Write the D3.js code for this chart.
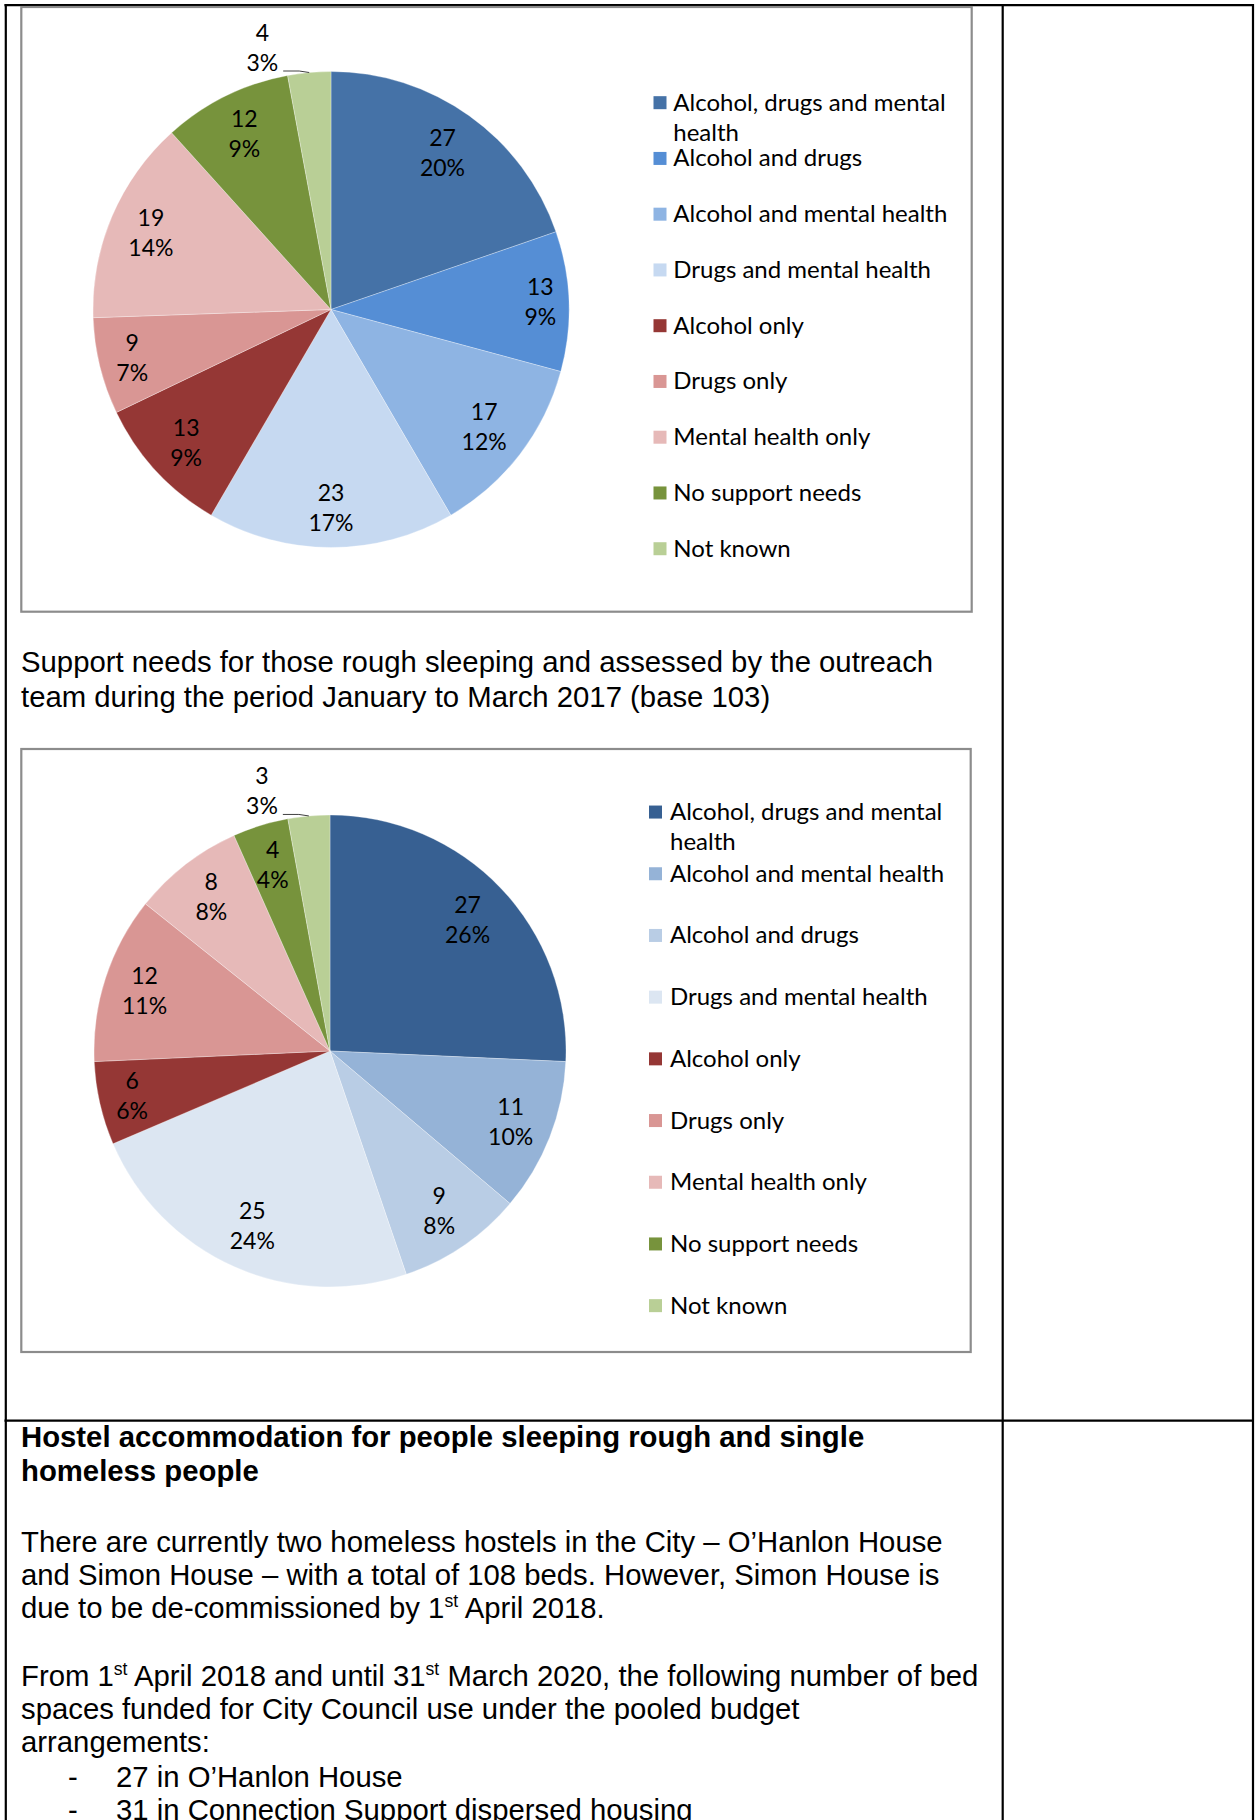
<!DOCTYPE html>
<html>
<head>
<meta charset="utf-8">
<script src="https://cdn.jsdelivr.net/npm/d3@7"></script>
<style>
  html, body { margin: 0; padding: 0; background: #fff; }
  svg { display: block; }
</style>
</head>
<body>
<svg id="page" width="1257" height="1820"></svg>
<script>
// ---- Support needs, earlier period ----
const categoriesEarlier = [
  "Alcohol, drugs and mental health",
  "Alcohol and drugs",
  "Alcohol and mental health",
  "Drugs and mental health",
  "Alcohol only",
  "Drugs only",
  "Mental health only",
  "No support needs",
  "Not known"
];
const valuesEarlier = [27, 13, 17, 23, 13, 9, 19, 12, 4];

// ---- Support needs, January to March 2017 ----
const categoriesJanMar = [
  "Alcohol, drugs and mental health",
  "Alcohol and mental health",
  "Alcohol and drugs",
  "Drugs and mental health",
  "Alcohol only",
  "Drugs only",
  "Mental health only",
  "No support needs",
  "Not known"
];
const valuesJanMar = [27, 11, 9, 25, 6, 12, 8, 4, 3];

// slice palettes
const paletteEarlier = ["#4572A7", "#558ED5", "#8EB4E3", "#C6D9F1", "#953735", "#D99694", "#E6B9B8", "#77933C", "#B9CF96"];
const paletteJanMar  = ["#376092", "#95B3D7", "#B9CDE5", "#DCE6F2", "#953735", "#D99694", "#E6B9B8", "#77933C", "#B9CF96"];

// document text
const chartTitleLines = [
  "Support needs for those rough sleeping and assessed by the outreach",
  "team during the period January to March 2017 (base 103)"
];
const headingLines = [
  "Hostel accommodation for people sleeping rough and single",
  "homeless people"
];
const paragraphOne = [
  "There are currently two homeless hostels in the City \u2013 O\u2019Hanlon House",
  "and Simon House \u2013 with a total of 108 beds. However, Simon House is",
  "due to be de-commissioned by 1{st} April 2018."
];
const paragraphTwo = [
  "From 1{st} April 2018 and until 31{st} March 2020, the following number of bed",
  "spaces funded for City Council use under the pooled budget",
  "arrangements:"
];
const bulletItems = [
  "27 in O\u2019Hanlon House",
  "31 in Connection Support dispersed housing"
];

const svg = d3.select("#page");
const chartFont = "Lato, 'Open Sans', sans-serif";
const bodyFont = "'Liberation Sans', Arial, Helvetica, sans-serif";
const labelFontSize = 23;
const legendFontSize = 24;
const bodyFontSize = 29.3;

// percentages rounded so that they add up to 100 (largest remainder)
function roundedPercents(values) {
  const total = d3.sum(values);
  const raw = values.map(v => v / total * 100);
  const out = raw.map(Math.floor);
  const missing = 100 - d3.sum(out);
  const order = d3.range(values.length).sort((a, b) => (raw[b] - out[b]) - (raw[a] - out[a]));
  for (let k = 0; k < missing; k++) out[order[k]] += 1;
  return out;
}

function wrapLines(textSel, str, maxW) {
  const words = str.split(" ");
  const lines = [];
  let cur = [];
  words.forEach(w => {
    textSel.text(cur.concat(w).join(" "));
    if (textSel.node().getComputedTextLength() > maxW && cur.length) {
      lines.push(cur.join(" "));
      cur = [w];
    } else {
      cur.push(w);
    }
  });
  lines.push(cur.join(" "));
  textSel.text(null);
  return lines;
}

function drawPie(cfg) {
  const g = svg.append("g");
  g.append("rect")
    .attr("x", cfg.box[0]).attr("y", cfg.box[1])
    .attr("width", cfg.box[2]).attr("height", cfg.box[3])
    .attr("fill", "#fff").attr("stroke", "#8c8c8c").attr("stroke-width", 2.2);

  const pcts = roundedPercents(cfg.values);
  const data = cfg.categories.map((c, i) => ({ name: c, value: cfg.values[i], pct: pcts[i], color: cfg.palette[i] }));
  const arcs = d3.pie().sort(null).value(d => d.value)(data);
  const arc = d3.arc().innerRadius(0).outerRadius(cfg.r);

  const pg = g.append("g").attr("transform", `translate(${cfg.cx},${cfg.cy})`);
  pg.selectAll("path.slice").data(arcs).join("path")
    .attr("class", "slice")
    .attr("d", arc)
    .attr("fill", d => d.data.color)
    .attr("stroke", "#ffffff").attr("stroke-width", 0.6).attr("stroke-opacity", 0.5);

  // data labels: value and percentage, placed inside near the rim,
  // or outside with a leader line when the slice is too thin
  const lineGap = 30, halfH = 28, R = cfg.r - 10;
  arcs.forEach(a => {
    const lines = [String(a.data.value), a.data.pct + "%"];
    const share = (a.endAngle - a.startAngle) / (2 * Math.PI);
    const mid = (a.startAngle + a.endAngle) / 2;
    const ux = Math.sin(mid), uy = -Math.cos(mid);
    const lg = pg.append("g");
    const texts = lines.map(t => lg.append("text")
      .attr("text-anchor", "middle")
      .attr("font-family", chartFont).attr("font-size", labelFontSize)
      .attr("fill", "#000").text(t));
    const halfW = d3.max(texts, t => t.node().getComputedTextLength()) / 2;
    if (share >= 0.033) {
      const b = Math.abs(ux) * halfW + Math.abs(uy) * halfH;
      const d = -b + Math.sqrt(b * b - (halfW * halfW + halfH * halfH - R * R));
      const lx = d * ux, ly = d * uy;
      texts.forEach((t, i) => t.attr("x", lx).attr("y", ly + (i - 0.5) * lineGap + 8));
    } else {
      const px = cfg.r * ux, py = cfg.r * uy;
      const ax = px - 26, ay = py - 1.5;
      lg.append("polyline")
        .attr("points", [[ax, ay], [px - 10, ay], [px, py]].map(p => p.join(",")).join(" "))
        .attr("fill", "none").attr("stroke", "#404040").attr("stroke-width", 1);
      const lx = ax - 5 - halfW;
      texts.forEach((t, i) => t.attr("x", lx).attr("y", ay + (i - (lines.length - 1)) * lineGap));
    }
  });

  // legend
  const band = d3.scaleBand().domain(cfg.categories).range([cfg.legendTop, cfg.legendBottom]);
  const leg = g.append("g");
  cfg.categories.forEach((c, i) => {
    const yc = band(c) + band.bandwidth() / 2;
    leg.append("rect")
      .attr("x", cfg.markerX).attr("y", yc - 6.5)
      .attr("width", 13).attr("height", 13)
      .attr("fill", cfg.palette[i]);
    const t = leg.append("text")
      .attr("font-family", chartFont).attr("font-size", legendFontSize).attr("fill", "#000");
    const lines = wrapLines(t, c, cfg.legendMaxW);
    lines.forEach((ln, k) => {
      t.append("tspan").attr("x", cfg.textX).attr("y", yc + 8 + k * 30).text(ln);
    });
  });
}

// one line of body text; parts written as {..} are set as superscripts
function writeLine(parent, str, x, y, size, weight) {
  const t = parent.append("text")
    .attr("x", x).attr("y", y)
    .attr("font-family", bodyFont).attr("font-size", size)
    .attr("font-weight", weight || "normal").attr("fill", "#000");
  const parts = str.split(/(\{[^}]*\})/).filter(s => s.length);
  const rise = size * 0.36;
  let raised = false;
  parts.forEach(p => {
    if (p.startsWith("{")) {
      t.append("tspan").attr("font-size", size * 0.6).attr("dy", -rise).text(p.slice(1, -1));
      raised = true;
    } else {
      const ts = t.append("tspan").text(p);
      if (raised) { ts.attr("dy", rise); raised = false; }
    }
  });
  return t;
}

function writeBlock(lines, x, y0, step, weight) {
  lines.forEach((ln, i) => writeLine(svg, ln, x, y0 + i * step, bodyFontSize, weight));
}

// ---- page frame (table borders) ----
const frame = svg.append("g").attr("stroke", "#000").attr("stroke-width", 2.2).attr("fill", "none");
frame.append("line").attr("x1", 4.5).attr("x2", 1254).attr("y1", 5.2).attr("y2", 5.2);
frame.append("line").attr("x1", 5.8).attr("x2", 5.8).attr("y1", 4).attr("y2", 1820);
frame.append("line").attr("x1", 1002.7).attr("x2", 1002.7).attr("y1", 4).attr("y2", 1820);
frame.append("line").attr("x1", 1253).attr("x2", 1253).attr("y1", 4).attr("y2", 1820);
frame.append("line").attr("x1", 4.5).attr("x2", 1254).attr("y1", 1420.7).attr("y2", 1420.7);

// ---- charts ----
drawPie({
  categories: categoriesEarlier, values: valuesEarlier, palette: paletteEarlier,
  box: [21.3, 7, 950.4, 604.7],
  cx: 331, cy: 309.5, r: 238,
  markerX: 653.5, textX: 673.3, legendMaxW: 300,
  legendTop: 74.8, legendBottom: 576.6
});

writeBlock(chartTitleLines, 21, 672.3, 34.4);

drawPie({
  categories: categoriesJanMar, values: valuesJanMar, palette: paletteJanMar,
  box: [21.3, 749, 949.4, 603],
  cx: 330, cy: 1051, r: 236,
  markerX: 649, textX: 670, legendMaxW: 300,
  legendTop: 781.2, legendBottom: 1336.5
});

// ---- text below the charts ----
writeBlock(headingLines, 21, 1447, 33.5, "bold");
writeBlock(paragraphOne, 21, 1551.5, 33);
writeBlock(paragraphTwo, 21, 1686, 33);
bulletItems.forEach((item, i) => {
  writeLine(svg, "-", 68, 1787 + i * 33, bodyFontSize);
  writeLine(svg, item, 116, 1787 + i * 33, bodyFontSize);
});
</script>
</body>
</html>
